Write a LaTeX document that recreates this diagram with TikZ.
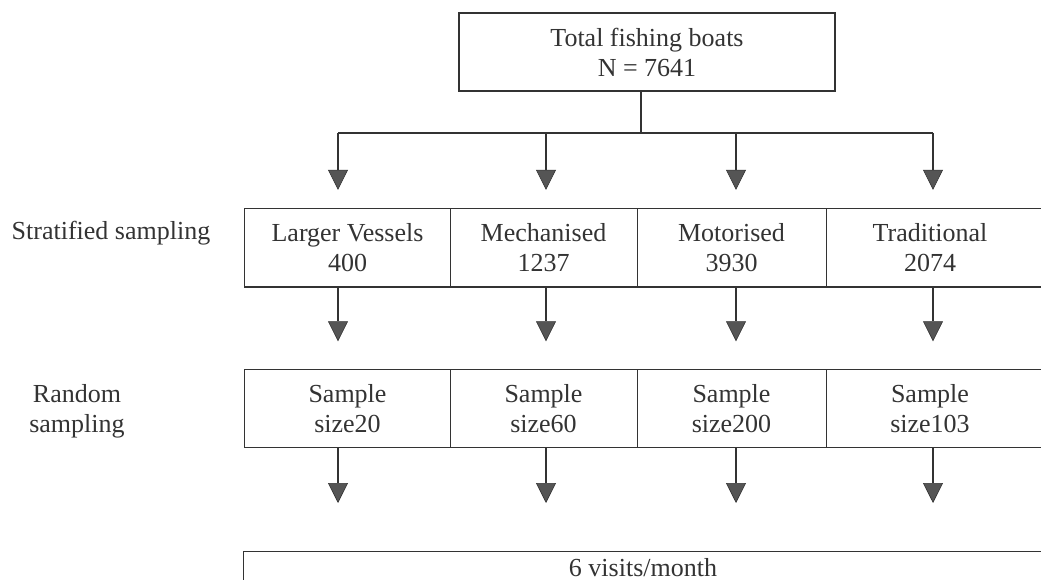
\documentclass[tikz,border=0pt]{standalone}
\usepackage{fontspec}
\setmainfont{Liberation Serif}
\usetikzlibrary{arrows.meta}
\definecolor{ink}{HTML}{333333}
\definecolor{head}{HTML}{555555}
\begin{document}
\begin{tikzpicture}[x=1pt,y=-1pt,
  font=\fontsize{26}{30}\selectfont,
  every node/.style={text=ink},
  box/.style={draw=ink, line width=1.2pt},
  cell/.style={minimum height=78pt, align=center, inner sep=0pt},
  arr/.style={draw=ink, line width=1.3pt, -{Triangle[width=20pt,length=20pt,fill=head,line width=0.6pt]}}]
\useasboundingbox (0,0) rectangle (1041,580);
\clip (0,0) rectangle (1041,580);

% top box
\node[box, cell, minimum width=376pt] (top) at (647,52) {Total fishing boats\\N = 7641};

% arrow columns
\coordinate (c1) at (338,0);
\coordinate (c2) at (546,0);
\coordinate (c3) at (736,0);
\coordinate (c4) at (933,0);
\coordinate (stem) at (641,133);

% stratified row
\node[cell, minimum width=205pt] (s1) at (347.5,248) {Larger Vessels\\400};
\node[cell, minimum width=187pt] (s2) at (543.5,248) {Mechanised\\1237};
\node[cell, minimum width=189pt] (s3) at (731.5,248) {Motorised\\3930};
\node[cell, minimum width=208pt] (s4) at (930,248) {Traditional\\2074};
\draw[box] (s1.north west) rectangle (1070,287);
\draw[box] (s1.north east) -- (s1.south east);
\draw[box] (s2.north east) -- (s2.south east);
\draw[box] (s3.north east) -- (s3.south east);

% random row
\node[cell, minimum width=205pt] (r1) at (347.5,408.5) {Sample\\size20};
\node[cell, minimum width=187pt] (r2) at (543.5,408.5) {Sample\\size60};
\node[cell, minimum width=189pt] (r3) at (731.5,408.5) {Sample\\size200};
\node[cell, minimum width=208pt] (r4) at (930,408.5) {Sample\\size103};
\draw[box] (r1.north west) rectangle (1070,447.5);
\draw[box] (r1.north east) -- (r1.south east);
\draw[box] (r2.north east) -- (r2.south east);
\draw[box] (r3.north east) -- (r3.south east);

% bottom box
\node[box, minimum width=830pt, minimum height=70pt, anchor=north west, inner sep=0pt] (bot) at (243,551) {};
\node[anchor=base] (visits) at (643,576) {6 visits/month};

% side labels
\node[anchor=base] (strat) at (111,240) {Stratified sampling};
\node[align=center, inner sep=0pt] (rand) at (77,411) {Random\\sampling};

% connectors: top to stratified
\draw[box] (top.south -| stem) -- (stem);
\draw[box] (c1 |- stem) -- (c4 |- stem);
\foreach \i in {1,2,3,4}
  \draw[arr, shorten >=19pt] (c\i |- stem) -- (c\i |- s\i.north);

% stratified to random
\foreach \i in {1,2,3,4}
  \draw[arr, shorten >=28pt] (c\i |- s\i.south) -- (c\i |- r\i.north);

% random to bottom
\foreach \i in {1,2,3,4}
  \draw[arr, shorten >=48pt] (c\i |- r\i.south) -- (c\i |- bot.north);
\end{tikzpicture}
\end{document}
